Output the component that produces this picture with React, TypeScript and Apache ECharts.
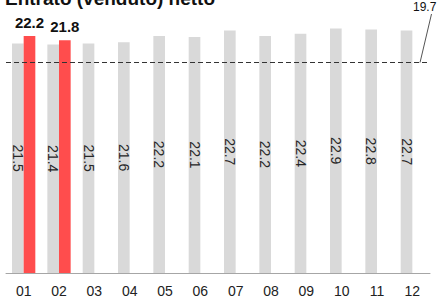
import React, { useEffect, useRef } from "react";
import * as echarts from "echarts";

const categories = ["01", "02", "03", "04", "05", "06", "07", "08", "09", "10", "11", "12"];
const priorYear = [21.5, 21.4, 21.5, 21.6, 22.2, 22.1, 22.7, 22.2, 22.4, 22.9, 22.8, 22.7];
const currentYear: (number | null)[] = [22.2, 21.8, null, null, null, null, null, null, null, null, null, null];
const targetValue = 19.7;
const titleText = "Entrato (venduto) netto";

const FONT = "'Liberation Sans', Arial, sans-serif";

export default function App() {
  const ref = useRef<HTMLDivElement>(null);
  useEffect(() => {
    if (!ref.current) return;
    const chart = echarts.init(ref.current, null, { renderer: "svg" });
    chart.setOption({
      animation: false,
      textStyle: { fontFamily: FONT },
      grid: { left: 6, right: 7, top: 6, bottom: 26 },
      xAxis: {
        type: "category",
        data: categories,
        axisLine: { lineStyle: { color: "#a6a6a6", width: 1 } },
        axisTick: { length: 4, lineStyle: { color: "#a6a6a6" } },
        axisLabel: { color: "#222", fontSize: 14, fontFamily: FONT, margin: 11 },
      },
      yAxis: {
        type: "value",
        min: 0,
        max: 25,
        show: false,
        splitLine: { show: false },
      },
      series: [
        {
          type: "bar",
          data: priorYear,
          barWidth: "33%",
          barGap: "0%",
          itemStyle: { color: "#d9d9d9" },
          label: {
            show: true,
            position: "inside",
            rotate: -90,
            color: "#262626",
            fontSize: 14,
            fontFamily: FONT,
            formatter: (p: any) => Number(p.value).toFixed(1),
          },
          markLine: {
            silent: true,
            symbol: "none",
            label: { show: false },
            lineStyle: { color: "#333", width: 1, type: [5, 3] },
            data: [{ yAxis: targetValue }],
          },
        },
        {
          type: "bar",
          data: currentYear,
          barWidth: "33%",
          barGap: "0%",
          itemStyle: { color: "#ff4d4d" },
          label: {
            show: true,
            position: "top",
            distance: 6,
            color: "#111",
            fontSize: 15,
            fontWeight: "bold",
            fontFamily: FONT,
            formatter: (p: any) => Number(p.value).toFixed(1),
          },
        },
      ],
    });
    const yLine = chart.convertToPixel({ yAxisIndex: 0 }, targetValue) as number;
    chart.setOption({
      graphic: [
        {
          type: "text",
          left: 5,
          y: -2,
          style: {
            text: titleText,
            font: `bold 19px ${FONT}`,
            fill: "#111",
            verticalAlign: "middle",
          },
        },
        {
          type: "line",
          shape: { x1: 431.5, y1: 14, x2: 420, y2: yLine },
          style: { stroke: "#555", lineWidth: 1 },
        },
        {
          type: "text",
          x: 413,
          y: 1,
          style: {
            text: String(targetValue),
            font: `12px ${FONT}`,
            fill: "#111",
            verticalAlign: "top",
          },
        },
      ],
    });
    return () => chart.dispose();
  }, []);
  return <div ref={ref} style={{ width: 437, height: 299, position: "absolute", left: 0, top: 0 }} />;
}
